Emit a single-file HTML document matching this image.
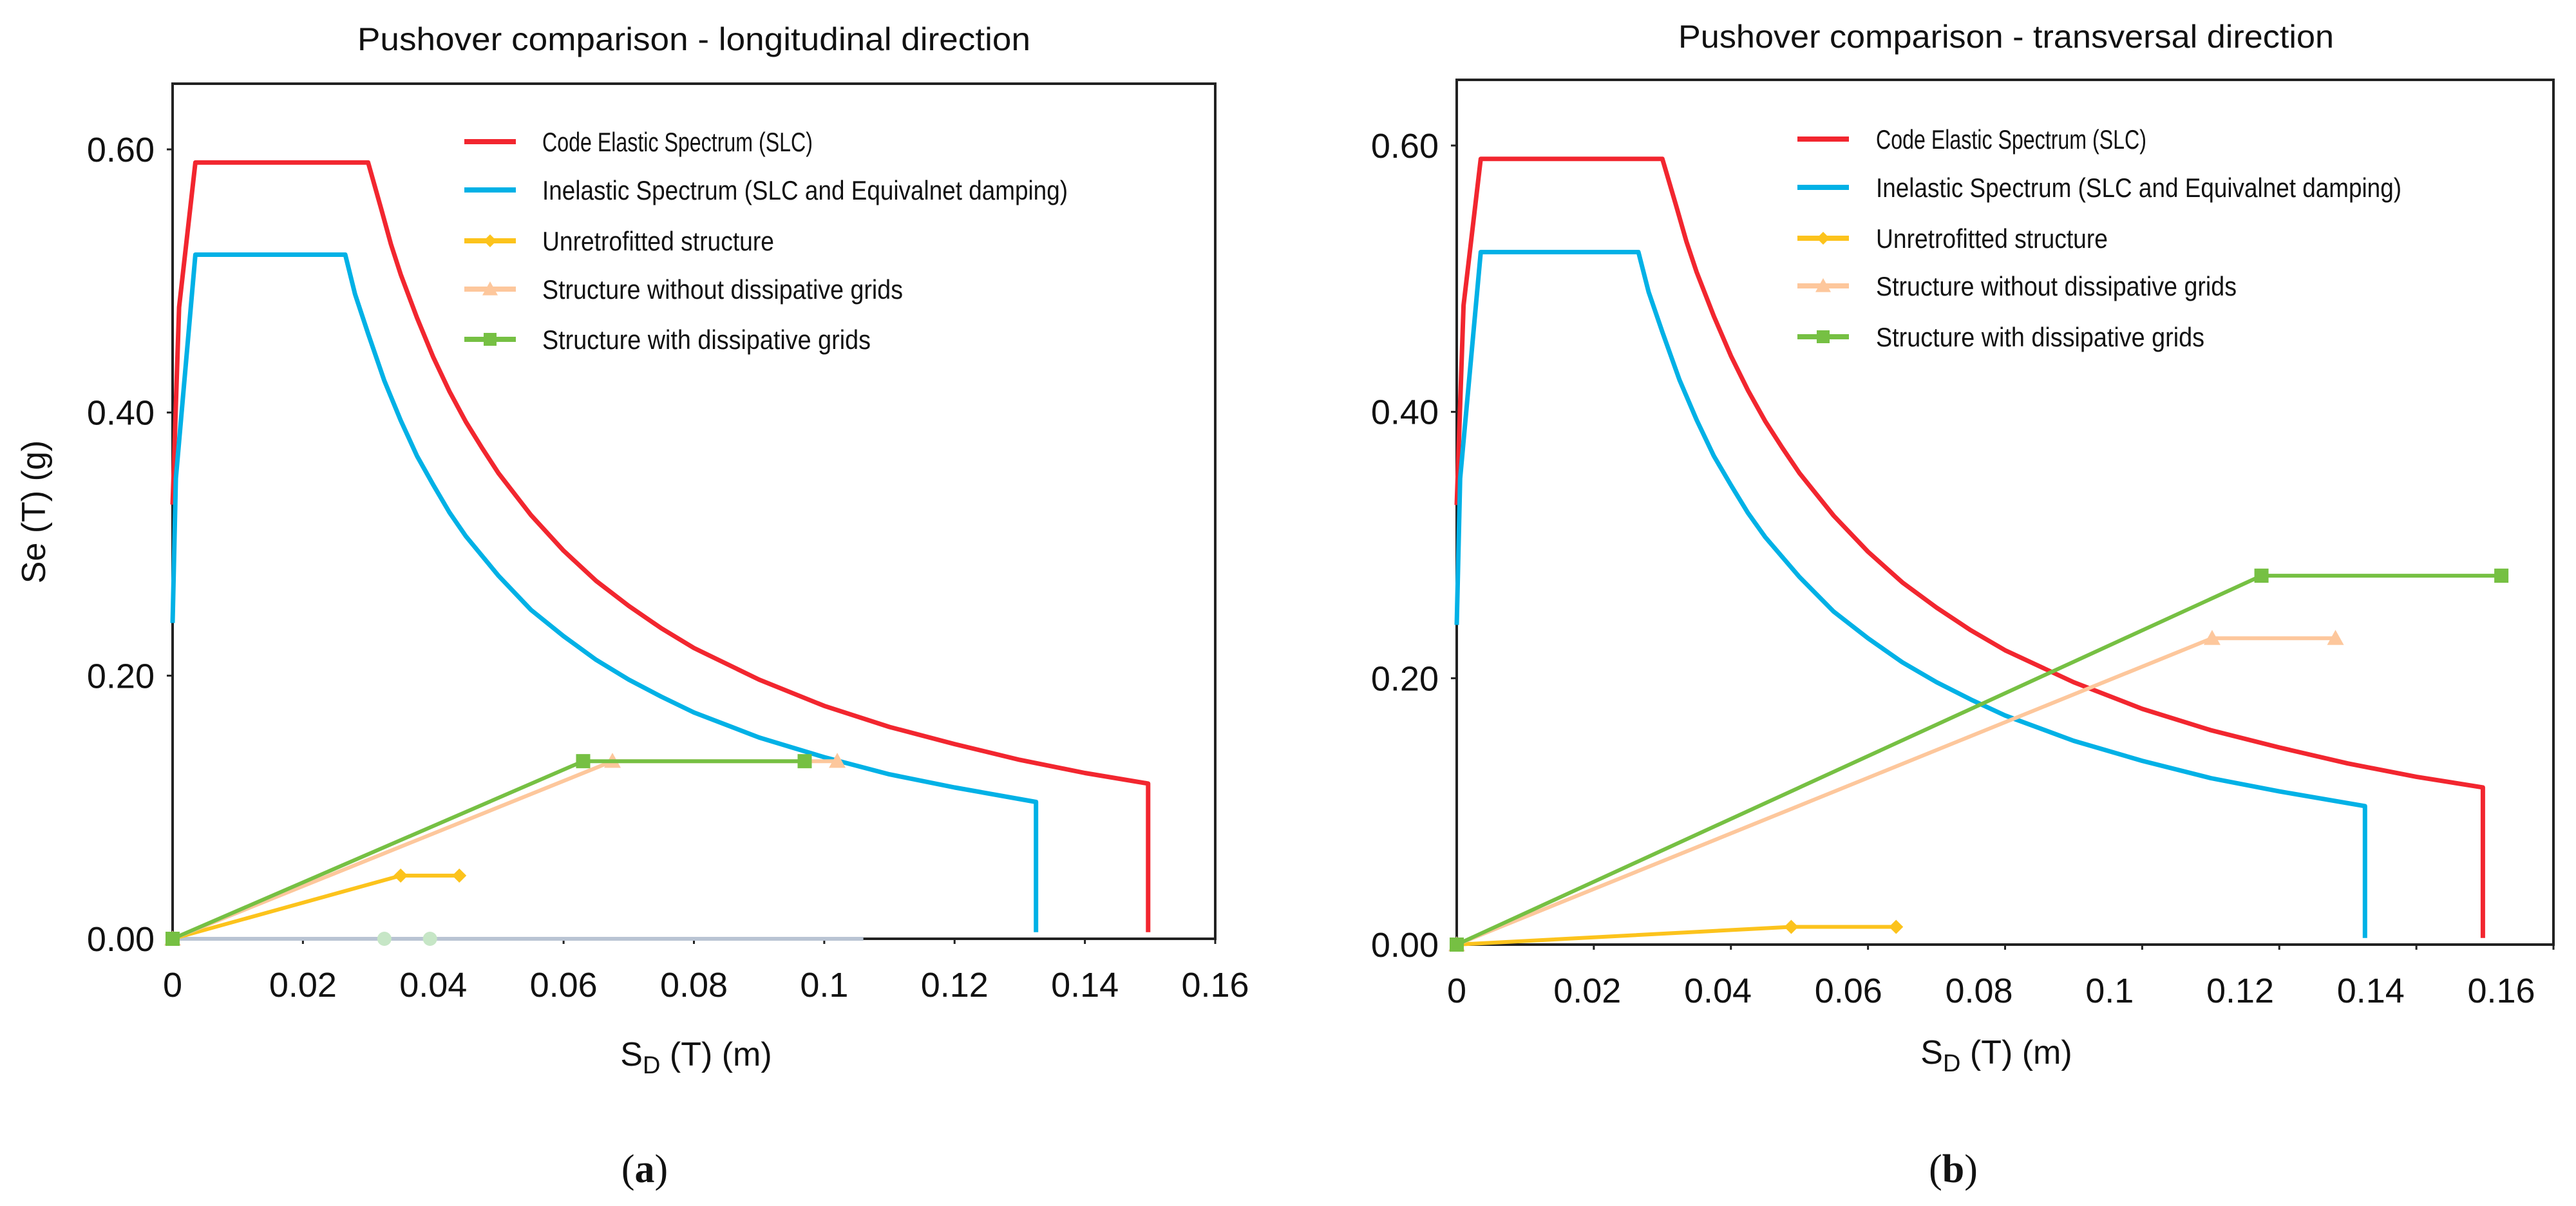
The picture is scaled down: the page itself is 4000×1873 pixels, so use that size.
<!DOCTYPE html>
<html><head><meta charset="utf-8">
<style>
html,body{margin:0;padding:0;background:#fff;}
svg{display:block;font-family:"Liberation Sans",sans-serif;}
</style></head>
<body>
<svg id="fig" width="4000" height="1873" viewBox="0 0 4000 1873" xmlns="http://www.w3.org/2000/svg">
<rect x="0" y="0" width="4000" height="1873" fill="#fff"/>
</svg>
<script>
// ---- data ----
const xTicks = [0, 0.02, 0.04, 0.06, 0.08, 0.1, 0.12, 0.14, 0.16];
const xTickLabels = ["0", "0.02", "0.04", "0.06", "0.08", "0.1", "0.12", "0.14", "0.16"];
const yTicks = [0, 0.2, 0.4, 0.6];
const yTickLabels = ["0.00", "0.20", "0.40", "0.60"];

const elasticX = [0, 0.001, 0.0035, 0.030, 0.032, 0.0335, 0.035, 0.0375, 0.040, 0.0425, 0.045, 0.0475, 0.050, 0.055, 0.060, 0.065, 0.070, 0.075, 0.080, 0.090, 0.100, 0.110, 0.120, 0.130, 0.140, 0.1497, 0.1497];
const elasticY = [0.33, 0.48, 0.59, 0.59, 0.555, 0.528, 0.505, 0.472, 0.442, 0.416, 0.393, 0.373, 0.354, 0.322, 0.295, 0.272, 0.253, 0.236, 0.221, 0.197, 0.177, 0.161, 0.148, 0.136, 0.126, 0.118, 0.005];
const inelasticX = [0, 0.0005, 0.0035, 0.0265, 0.028, 0.030, 0.0325, 0.035, 0.0375, 0.040, 0.0425, 0.045, 0.050, 0.055, 0.060, 0.065, 0.070, 0.075, 0.080, 0.090, 0.100, 0.110, 0.120, 0.1325, 0.1325];
const inelasticY = [0.24, 0.35, 0.52, 0.52, 0.49, 0.46, 0.424, 0.394, 0.367, 0.345, 0.324, 0.306, 0.276, 0.25, 0.23, 0.212, 0.197, 0.184, 0.172, 0.153, 0.138, 0.125, 0.115, 0.104, 0.005];

const longUnretX = [0, 0.035, 0.044];
const longUnretY = [0, 0.048, 0.048];
const longNoGridX = [0, 0.0675, 0.102];
const longNoGridY = [0, 0.135, 0.135];
const longGridX = [0, 0.063, 0.097];
const longGridY = [0, 0.135, 0.135];
const longFaintX = [0, 0.0325, 0.0395, 0.106];
const longFaintY = [0, 0, 0, 0];

const transUnretX = [0, 0.0488, 0.0641];
const transUnretY = [0, 0.0133, 0.0133];
const transNoGridX = [0, 0.1102, 0.1282];
const transNoGridY = [0, 0.23, 0.23];
const transGridX = [0, 0.1174, 0.1524];
const transGridY = [0, 0.277, 0.277];

const legendLabels = ["Code Elastic Spectrum (SLC)", "Inelastic Spectrum (SLC and Equivalnet damping)", "Unretrofitted structure", "Structure without dissipative grids", "Structure with dissipative grids"];

// ---- drawing ----
const NS = "http://www.w3.org/2000/svg";
const svg = document.getElementById("fig");
const RED = "#f2262f", BLUE = "#00b1e6", YEL = "#fcc31c", PEACH = "#fdc79c", GREEN = "#76c043";

function mk(tag, attrs, parent) {
  const e = document.createElementNS(NS, tag);
  for (const k in attrs) e.setAttribute(k, attrs[k]);
  (parent || svg).appendChild(e);
  return e;
}

function drawChart(cfg) {
  const g = mk("g", {});
  
  
  const sx = v => cfg.x0 + (v / 0.16) * (cfg.x16 - cfg.x0);
  const sy = v => cfg.y0 - (v / 0.6) * (cfg.y0 - cfg.y6);

  const t = mk("text", {x: (cfg.tx1 + cfg.tx2) / 2, y: cfg.ty, "font-size": 50, "text-anchor": "middle", textLength: cfg.tx2 - cfg.tx1, lengthAdjust: "spacingAndGlyphs", fill: "#111"}, g);
  t.textContent = cfg.title;
  
  

  const box = mk("rect", {x: cfg.x0, y: cfg.top, width: cfg.right - cfg.x0, height: cfg.y0 - cfg.top, fill: "none", stroke: "#222", "stroke-width": 4}, g);
  
  

  yTicks.forEach((v, i) => {
    const y = sy(v);
    const tk = mk("line", {x1: cfg.x0 - 9, x2: cfg.x0, y1: y, y2: y, stroke: "#222", "stroke-width": 3}, g);
    
    
    const lb = mk("text", {x: cfg.x0 - 28, y: y + 19, "font-size": 54, "text-anchor": "end", fill: "#111"}, g);
    lb.textContent = yTickLabels[i];
    
    
  });
  xTicks.forEach((v, i) => {
    const x = sx(v);
    const tk = mk("line", {x1: x, x2: x, y1: cfg.y0, y2: cfg.y0 + 8, stroke: "#222", "stroke-width": 3}, g);
    
    
    const lx = cfg.labelX0 + i * cfg.labelStep;
    const lb = mk("text", {x: lx, y: cfg.y0 + 90, "font-size": 54, "text-anchor": "middle", fill: "#111"}, g);
    lb.textContent = xTickLabels[i];
    
    
  });

  const xt = mk("text", {x: cfg.xtx, y: cfg.xty, "font-size": 52, "text-anchor": "middle", fill: "#111"}, g);
  xt.innerHTML = 'S<tspan font-size="38" dy="12">D</tspan><tspan dy="-12"> (T) (m)</tspan>';
  
  

  function line(xs, ys, color, w, name) {
    const pts = xs.map((v, i) => sx(v).toFixed(1) + "," + sy(ys[i]).toFixed(1)).join(" ");
    const p = mk("polyline", {points: pts, fill: "none", stroke: color, "stroke-width": w, "stroke-linejoin": "round"}, g);
    
    
    return p;
  }
  function marker(type, x, y, color, s, parent) {
    let m;
    if (type === "diamond") m = mk("polygon", {points: `${x},${y - s} ${x + s},${y} ${x},${y + s} ${x - s},${y}`, fill: color}, parent || g);
    else if (type === "triangle") m = mk("polygon", {points: `${x},${y - s} ${x + s},${y + s * 0.8} ${x - s},${y + s * 0.8}`, fill: color}, parent || g);
    else if (type === "square") m = mk("rect", {x: x - s, y: y - s, width: 2 * s, height: 2 * s, fill: color}, parent || g);
    else m = mk("circle", {cx: x, cy: y, r: s, fill: color}, parent || g);
    
    
    return m;
  }
  function series(xs, ys, color, type, name) {
    line(xs, ys, color, 6, name);
    xs.forEach((v, i) => marker(type, sx(v), sy(ys[i]), color, type === "triangle" ? 13 : 11));
  }

  if (cfg.faint) {
    line(longFaintX, longFaintY, "#b9c4d3", 6, "faint-baseline-series");
    longFaintX.slice(1, 3).forEach((v, i) => marker("circle", sx(v), sy(longFaintY[i + 1]), "#c6e6c6", 11));
  }
  line(elasticX, elasticY, RED, 7, "elastic-spectrum-line");
  line(inelasticX, inelasticY, BLUE, 7, "inelastic-spectrum-line");
  series(cfg.un[0], cfg.un[1], YEL, "diamond", "unretrofitted-series");
  series(cfg.ng[0], cfg.ng[1], PEACH, "triangle", "without-grids-series");
  series(cfg.wg[0], cfg.wg[1], GREEN, "square", "with-grids-series");

  const lg = mk("g", {}, g);
  
  
  const colors = [RED, BLUE, YEL, PEACH, GREEN];
  const marks = [null, null, "diamond", "triangle", "square"];
  const widths = [420, 816, 360, 560, 510];
  legendLabels.forEach((txt, i) => {
    const y = cfg.legY[i];
    const e = mk("g", {}, lg);
    
    
    mk("line", {x1: cfg.legX1, x2: cfg.legX2, y1: y, y2: y, stroke: colors[i], "stroke-width": 8}, e);
    if (marks[i]) marker(marks[i], (cfg.legX1 + cfg.legX2) / 2, y, colors[i], marks[i] === "triangle" ? 12 : 10, e);
    const tx = mk("text", {x: cfg.legTX, y: y + 15, "font-size": 42, textLength: widths[i], lengthAdjust: "spacingAndGlyphs", fill: "#111"}, e);
    tx.textContent = txt;
  });
}

drawChart({
  name: "chart-longitudinal", title: "Pushover comparison - longitudinal direction",
  x0: 268, x16: 1887, right: 1887, y0: 1458, y6: 232, top: 130,
  tx1: 555, tx2: 1600, ty: 78,
  labelX0: 268, labelStep: (1887 - 268) / 8,
  xtx: 1081, xty: 1655,
  legX1: 721, legX2: 801, legTX: 842, legY: [220, 295, 374, 449, 527],
  un: [longUnretX, longUnretY], ng: [longNoGridX, longNoGridY], wg: [longGridX, longGridY], faint: true
});
drawChart({
  name: "chart-transversal", title: "Pushover comparison - transversal direction",
  x0: 2262, x16: 3965, right: 3965, y0: 1467, y6: 226, top: 124,
  tx1: 2606, tx2: 3624, ty: 74,
  labelX0: 2262, labelStep: (3884 - 2262) / 8,
  xtx: 3100, xty: 1652,
  legX1: 2791, legX2: 2871, legTX: 2913, legY: [216, 291, 370, 444, 523],
  un: [transUnretX, transUnretY], ng: [transNoGridX, transNoGridY], wg: [transGridX, transGridY], faint: false
});

const yt = mk("text", {x: 0, y: 0, "font-size": 52, "text-anchor": "middle", transform: "translate(70,795) rotate(-90)", fill: "#111"});
yt.textContent = "Se (T)  (g)";



[["(a)", 1001], ["(b)", 3033]].forEach(([s, x]) => {
  const p = mk("text", {x: x, y: 1836, "font-size": 62, "text-anchor": "middle", "font-family": "Liberation Serif, serif", fill: "#111"});
  p.innerHTML = '(<tspan font-weight="bold">' + s[1] + '</tspan>)';
  
  
});
</script>
</body></html>
